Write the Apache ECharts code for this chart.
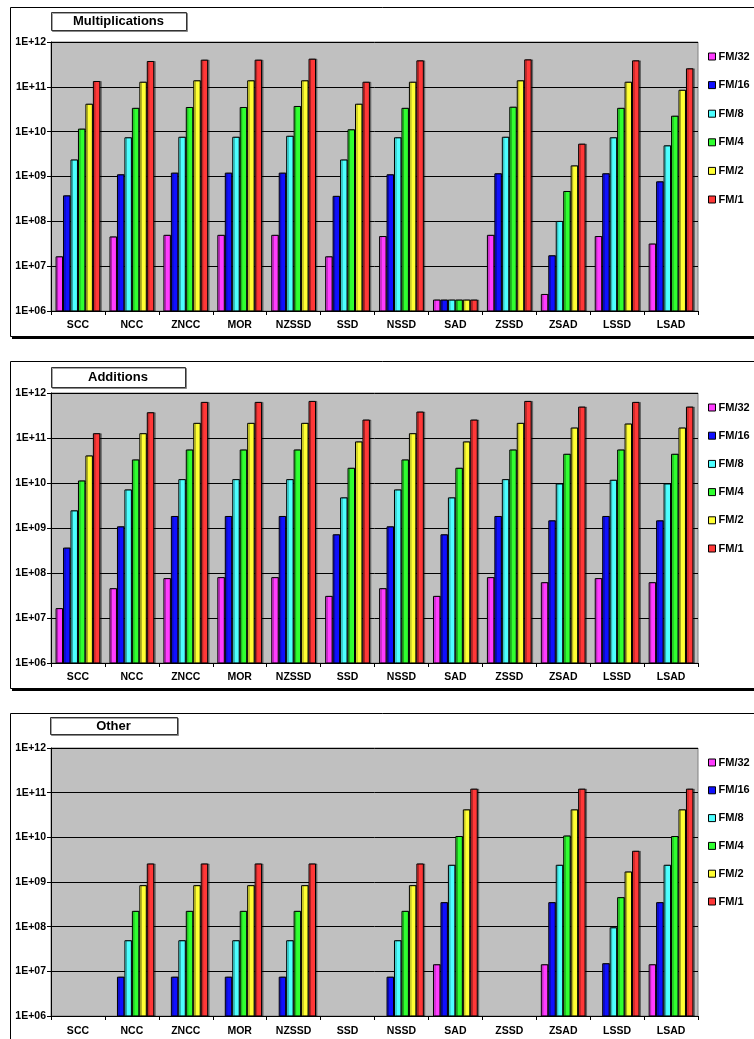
<!DOCTYPE html>
<html>
<head>
<meta charset="utf-8">
<script src="https://cdn.jsdelivr.net/npm/echarts@6/dist/echarts.min.js"></script>
<style>
  html, body { margin: 0; padding: 0; background: #fff; }
  #chart { width: 754px; height: 1039px; }
</style>
</head>
<body>
<div id="chart"></div>
<script>
// Operation counts per matching measure, for each frame-size factor (log scale).
const categories = ['SCC', 'NCC', 'ZNCC', 'MOR', 'NZSSD', 'SSD', 'NSSD', 'SAD', 'ZSSD', 'ZSAD', 'LSSD', 'LSAD'];
const seriesNames = ['FM/32', 'FM/16', 'FM/8', 'FM/4', 'FM/2', 'FM/1'];
const panelTitles = ['Multiplications', 'Additions', 'Other'];
const tickLabels = ['1E+06', '1E+07', '1E+08', '1E+09', '1E+10', '1E+11', '1E+12'];

// Multiplications
const mulFM32 = [1.66e7, 4.6e7, 5.0e7, 5.0e7, 5.0e7, 1.66e7, 4.7e7, 1.8e6, 5.0e7, 2.4e6, 4.7e7, 3.2e7];
const mulFM16 = [3.8e8, 1.12e9, 1.22e9, 1.22e9, 1.22e9, 3.7e8, 1.12e9, 1.8e6, 1.18e9, 1.75e7, 1.18e9, 7.8e8];
const mulFM8  = [2.4e9, 7.5e9, 7.7e9, 7.7e9, 8.1e9, 2.4e9, 7.5e9, 1.8e6, 7.7e9, 1.02e8, 7.5e9, 4.96e9];
const mulFM4  = [1.17e10, 3.4e10, 3.55e10, 3.55e10, 3.74e10, 1.13e10, 3.4e10, 1.8e6, 3.6e10, 4.75e8, 3.4e10, 2.27e10];
const mulFM2  = [4.2e10, 1.3e11, 1.4e11, 1.4e11, 1.4e11, 4.2e10, 1.3e11, 1.8e6, 1.4e11, 1.77e9, 1.3e11, 8.6e10];
const mulFM1  = [1.35e11, 3.77e11, 4.04e11, 4.04e11, 4.25e11, 1.3e11, 3.9e11, 1.8e6, 4.1e11, 5.4e9, 3.9e11, 2.59e11];

// Additions
const addFM32 = [1.66e7, 4.6e7, 7.7e7, 8.1e7, 8.1e7, 3.1e7, 4.6e7, 3.1e7, 8.1e7, 6.25e7, 7.7e7, 6.25e7];
const addFM16 = [3.67e8, 1.09e9, 1.85e9, 1.85e9, 1.85e9, 7.25e8, 1.09e9, 7.25e8, 1.85e9, 1.48e9, 1.85e9, 1.48e9];
const addFM8  = [2.47e9, 7.2e9, 1.22e10, 1.22e10, 1.22e10, 4.8e9, 7.2e9, 4.8e9, 1.22e10, 9.8e9, 1.18e10, 9.8e9];
const addFM4  = [1.14e10, 3.34e10, 5.56e10, 5.56e10, 5.56e10, 2.18e10, 3.34e10, 2.18e10, 5.56e10, 4.46e10, 5.56e10, 4.46e10];
const addFM2  = [4.1e10, 1.28e11, 2.17e11, 2.17e11, 2.17e11, 8.4e10, 1.28e11, 8.4e10, 2.17e11, 1.71e11, 2.1e11, 1.71e11];
const addFM1  = [1.28e11, 3.74e11, 6.34e11, 6.34e11, 6.67e11, 2.57e11, 3.87e11, 2.57e11, 6.67e11, 4.99e11, 6.34e11, 4.99e11];

// Other operations (null = none)
const othFM32 = [null, null, null, null, null, null, null, 1.44e7, null, 1.44e7, null, 1.44e7];
const othFM16 = [null, 7.6e6, 7.6e6, 7.6e6, 7.6e6, null, 7.6e6, 3.54e8, null, 3.54e8, 1.52e7, 3.54e8];
const othFM8  = [null, 4.97e7, 4.97e7, 4.97e7, 4.97e7, null, 4.97e7, 2.43e9, null, 2.43e9, 9.7e7, 2.43e9];
const othFM4  = [null, 2.26e8, 2.26e8, 2.26e8, 2.26e8, null, 2.26e8, 1.07e10, null, 1.1e10, 4.58e8, 1.07e10];
const othFM2  = [null, 8.5e8, 8.5e8, 8.5e8, 8.5e8, null, 8.5e8, 4.23e10, null, 4.23e10, 1.72e9, 4.23e10];
const othFM1  = [null, 2.6e9, 2.6e9, 2.6e9, 2.6e9, null, 2.6e9, 1.23e11, null, 1.23e11, 5.0e9, 1.23e11];

const panelData = [
  [mulFM32, mulFM16, mulFM8, mulFM4, mulFM2, mulFM1],
  [addFM32, addFM16, addFM8, addFM4, addFM2, addFM1],
  [othFM32, othFM16, othFM8, othFM4, othFM2, othFM1]
];

const colors = ['#ff3cff', '#1010ff', '#4dffff', '#30ff30', '#ffff33', '#ff3838'];
const FONT = '"Liberation Sans", Arial, sans-serif';

// Layout of each panel: frame box, title box, plot area, legend
const panels = [
  { frame: [10, 7, 760, 329], titleBox: [51, 12, 135, 18], grid: [51, 42, 647, 269], legendTop: 46, legendGap: 17.6, labelMargin: 9 },
  { frame: [10, 361, 760, 327], titleBox: [51, 367, 134, 20], grid: [51, 393, 647, 270], legendTop: 397, legendGap: 17.2, labelMargin: 9 },
  { frame: [10, 713, 760, 340], titleBox: [50, 717, 127, 17], grid: [51, 748, 647, 268], legendTop: 752, legendGap: 16.8, labelMargin: 10 }
];

const chart = echarts.init(document.getElementById('chart'), null, { renderer: 'canvas' });

const grids = [], xAxes = [], yAxes = [], series = [], legends = [], graphics = [];

panels.forEach((p, pi) => {
  const [fx, fy, fw, fh] = p.frame;
  // panel frame with heavy lower edge
  graphics.push({
    type: 'rect', shape: { x: fx + 0.5, y: fy + 0.5, width: fw, height: fh },
    style: { fill: '#fff', stroke: '#000', lineWidth: 1 }, z: -10
  });
  graphics.push({
    type: 'line', shape: { x1: fx + 2, y1: fy + fh + 1.5, x2: 760, y2: fy + fh + 1.5 },
    style: { stroke: '#000', lineWidth: 3 }, z: -9
  });
  // title box
  const [tx, ty, tw, th] = p.titleBox;
  graphics.push({
    type: 'rect', shape: { x: tx + 0.5, y: ty + 0.5, width: tw, height: th },
    style: { fill: '#fff', stroke: '#333', lineWidth: 1, shadowColor: 'rgba(0,0,0,0.35)', shadowOffsetX: 1, shadowOffsetY: 1 }, z: 10
  });
  graphics.push({
    type: 'text', x: tx + tw / 2, y: ty + th / 2 + 0.5,
    style: { text: panelTitles[pi], fill: '#000', font: 'bold 13px ' + FONT, textAlign: 'center', textVerticalAlign: 'middle' }, z: 11
  });

  const [gx, gy, gw, gh] = p.grid;
  grids.push({
    left: gx, top: gy, width: gw, height: gh,
    show: true, backgroundColor: '#c0c0c0', borderColor: '#808080', borderWidth: 1
  });
  xAxes.push({
    type: 'category', gridIndex: pi, data: categories,
    axisLine: { lineStyle: { color: '#000', width: 1 } },
    axisTick: { show: true, length: 4, lineStyle: { color: '#000' } },
    axisLabel: { color: '#000', fontFamily: FONT, fontWeight: 'bold', fontSize: 10.5, margin: p.labelMargin, interval: 0 },
    splitLine: { show: false }
  });
  yAxes.push({
    type: 'log', logBase: 10, gridIndex: pi, min: 1e6, max: 1e12, splitNumber: 6,
    axisLine: { show: true, lineStyle: { color: '#000', width: 1 } },
    axisTick: { show: true, length: 4, lineStyle: { color: '#000' } },
    axisLabel: {
      color: '#000', fontFamily: FONT, fontWeight: 'bold', fontSize: 10.5, margin: 5,
      formatter: v => tickLabels[Math.round(Math.log10(v)) - 6]
    },
    splitLine: { show: true, lineStyle: { color: '#000', width: 1 } },
    minorTick: { show: false }, minorSplitLine: { show: false }
  });
  seriesNames.forEach((name, si) => {
    series.push({
      type: 'bar', name: name, xAxisIndex: pi, yAxisIndex: pi,
      data: panelData[pi][si],
      barGap: '0%', barCategoryGap: '17%', clip: true,
      itemStyle: {
        color: colors[si], borderColor: '#000', borderWidth: 1,
        shadowColor: 'rgba(0,0,0,0.35)', shadowOffsetX: 1.5, shadowOffsetY: 0
      },
      emphasis: { disabled: true },
      animation: false
    });
  });
  legends.push({
    orient: 'vertical', left: 703, top: p.legendTop,
    data: seriesNames, icon: 'rect', itemWidth: 7, itemHeight: 7, itemGap: p.legendGap,
    selectedMode: false,
    textStyle: { color: '#000', fontFamily: FONT, fontWeight: 'bold', fontSize: 11, lineHeight: 10, padding: [0, 0, 0, -2] },
    itemStyle: { borderColor: '#000', borderWidth: 1 }
  });
});

chart.setOption({
  animation: false,
  backgroundColor: '#fff',
  grid: grids, xAxis: xAxes, yAxis: yAxes, series: series, legend: legends,
  graphic: graphics
});
</script>
</body>
</html>
